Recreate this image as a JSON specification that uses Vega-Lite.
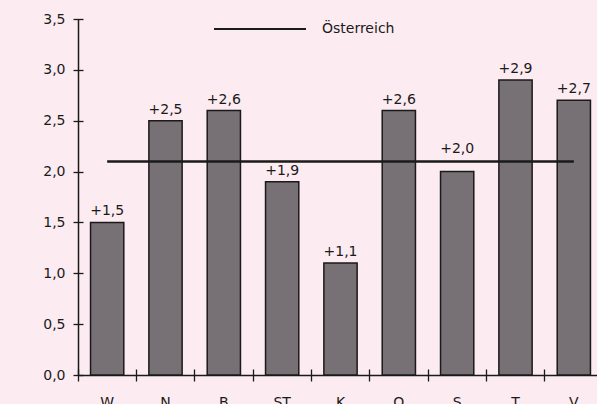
{
  "$schema": "https://vega.github.io/schema/vega-lite/v6.json",
  "width": 525,
  "height": 356,
  "autosize": {"type": "none"},
  "padding": {"left": 78, "top": 19, "right": 0, "bottom": 29},
  "background": "#fcebf0",
  "config": {
    "view": {"stroke": null},
    "locale": {"number": {"decimal": ",", "thousands": ".", "grouping": [3], "currency": ["", " €"]}},
    "font": "DejaVu Sans",
    "axis": {"labelFont": "DejaVu Sans", "labelFontSize": 14, "labelColor": "#1a1a1a", "domainColor": "#1a1a1a", "tickColor": "#1a1a1a", "domainWidth": 1.5, "tickWidth": 1.3, "grid": false, "title": null}
  },
  "datasets": {
    "bars": [
      {"land": "W", "wert": 1.5},
      {"land": "N", "wert": 2.5},
      {"land": "B", "wert": 2.6},
      {"land": "ST", "wert": 1.9},
      {"land": "K", "wert": 1.1},
      {"land": "O", "wert": 2.6},
      {"land": "S", "wert": 2.0},
      {"land": "T", "wert": 2.9},
      {"land": "V", "wert": 2.7}
    ],
    "oe": [
      {"land": "W", "wert": 2.1, "serie": "Österreich"},
      {"land": "V", "wert": 2.1, "serie": "Österreich"}
    ]
  },
  "layer": [
    {
      "data": {"name": "bars"},
      "mark": {"type": "bar", "fill": "#777074", "stroke": "#1a1a1a", "strokeWidth": 1.5},
      "encoding": {
        "x": {"field": "land", "type": "nominal", "sort": null,
          "scale": {"domain": ["W","N","B","ST","K","O","S","T","V"], "paddingInner": 0.43, "paddingOuter": 0.215},
          "axis": {"orient": "bottom", "domain": false, "labels": false, "ticks": true, "bandPosition": -0.377, "tickSize": 12, "offset": -6}},
        "y": {"field": "wert", "type": "quantitative",
          "scale": {"domain": [0, 3.5], "nice": false},
          "axis": {"orient": "left", "domain": false, "values": [0,0.5,1,1.5,2,2.5,3,3.5], "format": ".1f", "tickSize": 10, "offset": -5, "labelPadding": 8}}
      }
    },
    {
      "data": {"name": "bars"},
      "transform": [{"filter": "datum.land !== 'S'"}],
      "mark": {"type": "text", "baseline": "alphabetic", "dy": -7, "fontSize": 14, "color": "#1a1a1a", "font": "DejaVu Sans"},
      "encoding": {
        "x": {"field": "land", "type": "nominal", "sort": null, "scale": {"domain": ["W","N","B","ST","K","O","S","T","V"]}, "axis": null},
        "y": {"field": "wert", "type": "quantitative", "axis": null},
        "text": {"field": "wert", "type": "quantitative", "format": "+.1f"}
      }
    },
    {
      "data": {"name": "bars"},
      "transform": [{"filter": "datum.land === 'S'"}],
      "mark": {"type": "text", "baseline": "alphabetic", "dy": -19, "fontSize": 14, "color": "#1a1a1a", "font": "DejaVu Sans"},
      "encoding": {
        "x": {"field": "land", "type": "nominal", "sort": null, "scale": {"domain": ["W","N","B","ST","K","O","S","T","V"]}, "axis": null},
        "y": {"field": "wert", "type": "quantitative", "axis": null},
        "text": {"field": "wert", "type": "quantitative", "format": "+.1f"}
      }
    },
    {
      "data": {"name": "oe"},
      "mark": {"type": "line", "strokeWidth": 2.5},
      "encoding": {
        "x": {"field": "land", "type": "nominal", "sort": null, "scale": {"domain": ["W","N","B","ST","K","O","S","T","V"]},
          "axis": {"orient": "bottom", "domain": true, "ticks": false, "labelPadding": 20, "labelAngle": 0}},
        "y": {"field": "wert", "type": "quantitative",
          "axis": {"orient": "left", "domain": true, "ticks": false, "labels": false}},
        "color": {"field": "serie", "type": "nominal", "scale": {"range": ["#1a1a1a"]},
          "legend": {"orient": "none", "legendX": 135, "legendY": -37, "title": null, "symbolType": "stroke", "symbolSize": 8464, "symbolStrokeWidth": 2, "labelFontSize": 14, "labelFont": "DejaVu Sans", "labelColor": "#1a1a1a", "labelOffset": 15, "padding": 0}}
      }
    }
  ],
  "resolve": {"axis": {"x": "independent", "y": "independent"}}
}
